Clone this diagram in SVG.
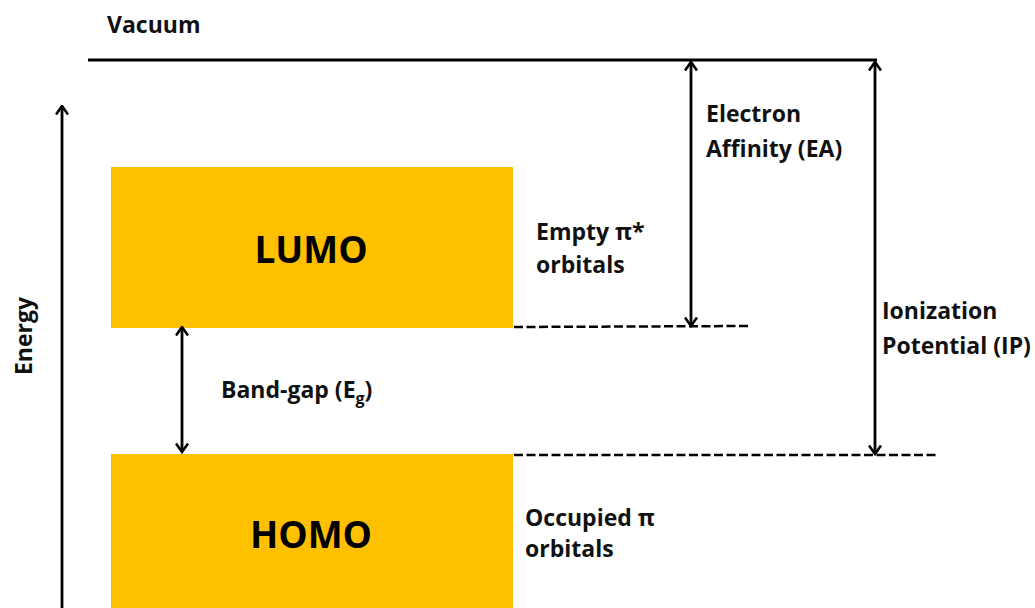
<svg xmlns="http://www.w3.org/2000/svg" width="1035" height="608" viewBox="0 0 1035 608">
<defs>
<marker id="ah" viewBox="0 0 12 14" refX="10.5" refY="7" markerWidth="12" markerHeight="14" markerUnits="userSpaceOnUse" orient="auto-start-reverse">
<path d="M2,1 L10.5,7 L2,13" fill="none" stroke="#000" stroke-width="2.6"/>
</marker>
<style>
.t{font-family:"Open Sans","Noto Sans","Liberation Sans",sans-serif;font-weight:bold;fill:#111;font-size:23px}
.big{font-family:"Open Sans","Noto Sans","Liberation Sans",sans-serif;font-weight:bold;fill:#000;font-size:37px}
.band{fill:#FFC000}
.ln{stroke:#000;stroke-width:2.8;fill:none}
.arr{stroke:#000;stroke-width:2.8;fill:none;marker-start:url(#ah);marker-end:url(#ah)}
.dash{stroke:#000;stroke-width:2.5;stroke-dasharray:9 3.5;fill:none}
</style>
</defs>
<rect width="1035" height="608" fill="#fff"/>
<g id="vacuum">
<text class="t" x="107" y="33">Vacuum</text>
<line class="ln" x1="88" y1="60" x2="877" y2="60" stroke-width="3"/>
</g>
<g id="energy-axis">
<line class="ln" x1="62" y1="608" x2="62" y2="106" style="marker-end:url(#ah)"/>
<text class="t" transform="translate(32,336) rotate(-90)" text-anchor="middle">Energy</text>
</g>
<g id="lumo">
<rect class="band" x="111" y="167" width="402" height="161"/>
<text class="big" x="311" y="263" text-anchor="middle">LUMO</text>
</g>
<g id="homo">
<rect class="band" x="111" y="454" width="402" height="154"/>
<text class="big" x="311" y="548" text-anchor="middle">HOMO</text>
</g>
<g id="empty-label">
<text class="t" x="536" y="240">Empty π*</text>
<text class="t" x="536" y="273">orbitals</text>
</g>
<g id="occupied-label">
<text class="t" x="525" y="526">Occupied π</text>
<text class="t" x="525" y="557">orbitals</text>
</g>
<g id="ea-label">
<text class="t" x="706" y="122">Electron</text>
<text class="t" x="706" y="157">Affinity (EA)</text>
</g>
<g id="ip-label">
<text class="t" x="882" y="319">Ionization</text>
<text class="t" x="882" y="354">Potential (IP)</text>
</g>
<g id="bandgap-label">
<text class="t" x="221" y="398">Band-gap (E<tspan font-size="16" dy="6">g</tspan><tspan dy="-6">)</tspan></text>
</g>
<g id="connectors">
<line class="dash" x1="514" y1="327" x2="750" y2="326"/>
<line class="dash" x1="514" y1="455" x2="937" y2="455"/>
<line class="arr" x1="182" y1="327" x2="182" y2="452"/>
<line class="arr" x1="691" y1="62" x2="691" y2="326"/>
<line class="arr" x1="875" y1="62" x2="875" y2="454"/>
</g>
</svg>
